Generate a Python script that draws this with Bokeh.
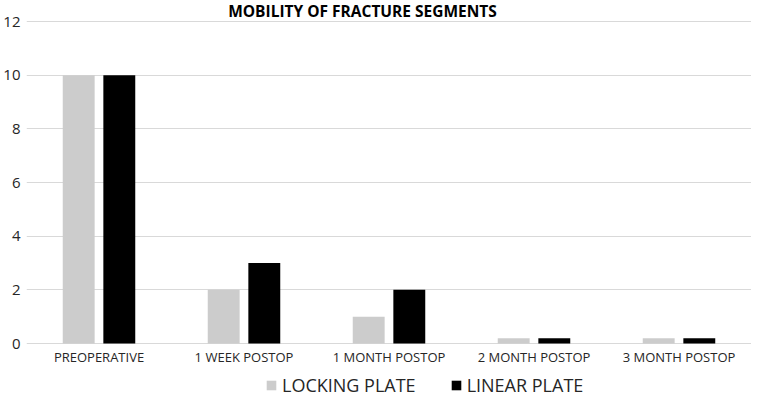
from bokeh.plotting import figure
from bokeh.models import ColumnDataSource, FactorRange, Legend, LegendItem, Range1d, Label
from bokeh.transform import dodge
from bokeh.core.properties import value
from bokeh.embed import file_html
from bokeh.resources import INLINE

categories = ["PREOPERATIVE", "1 WEEK POSTOP", "1 MONTH POSTOP", "2 MONTH POSTOP", "3 MONTH POSTOP"]
locking_plate = [10, 2, 1, 0.2, 0.2]
linear_plate = [10, 3, 2, 0.2, 0.2]
y_ticks = [0, 2, 4, 6, 8, 10, 12]
title_text = "MOBILITY OF FRACTURE SEGMENTS"

src = ColumnDataSource(data=dict(cat=categories, locking=locking_plate, linear=linear_plate))

# frame covers the whole figure height; value axis 0..12 sits where the reference has it
p = figure(x_range=FactorRange(*categories), y_range=Range1d(-1.826, 12.783),
           width=751, height=392, x_axis_location=None,
           output_backend="svg", toolbar_location=None,
           min_border_left=10, min_border_right=0, min_border_top=0, min_border_bottom=0)

r1 = p.vbar(x=dodge("cat", -0.14, range=p.x_range), top="locking", width=0.22, source=src,
            color="#cccccc", line_color=None)
r2 = p.vbar(x=dodge("cat", 0.14, range=p.x_range), top="linear", width=0.22, source=src,
            color="#000000", line_color=None)

p.outline_line_color = None
p.xgrid.grid_line_color = None
p.ygrid.ticker = y_ticks
p.ygrid.grid_line_color = "#d9d9d9"
p.ygrid.grid_line_width = 1

p.yaxis.ticker = y_ticks
p.yaxis.axis_line_color = None
p.yaxis.major_tick_line_color = None
p.yaxis.minor_tick_line_color = None
p.yaxis.major_tick_out = 0
p.yaxis.major_label_text_font = "Open Sans"
p.yaxis.major_label_text_font_size = "15px"
p.yaxis.major_label_text_color = "#262626"
p.yaxis.major_label_standoff = 6

# category labels under the baseline
p.text(x=categories, y=[-0.485] * len(categories), text=categories,
       text_font=value("Open Sans"), text_font_size="13px", text_color="#262626",
       text_align="center", text_baseline="middle")

title = Label(x=336, y=382, x_units="screen", y_units="screen", text=title_text,
              text_font="Open Sans", text_font_size="15.5px", text_font_style="bold",
              text_color="#000000", text_align="center", text_baseline="middle")
p.add_layout(title)

legend = Legend(items=[LegendItem(label="LOCKING PLATE", renderers=[r1]),
                       LegendItem(label="LINEAR PLATE", renderers=[r2])],
                orientation="horizontal", location=(239, -5),
                border_line_color=None, background_fill_alpha=0,
                label_text_font="Open Sans", label_text_font_size="18px",
                label_text_color="#262626", label_height=18, glyph_width=12, glyph_height=12,
                spacing=34, label_standoff=5, padding=0, margin=0)
p.add_layout(legend, "center")

open("out.html", "w").write(file_html(p, INLINE))
